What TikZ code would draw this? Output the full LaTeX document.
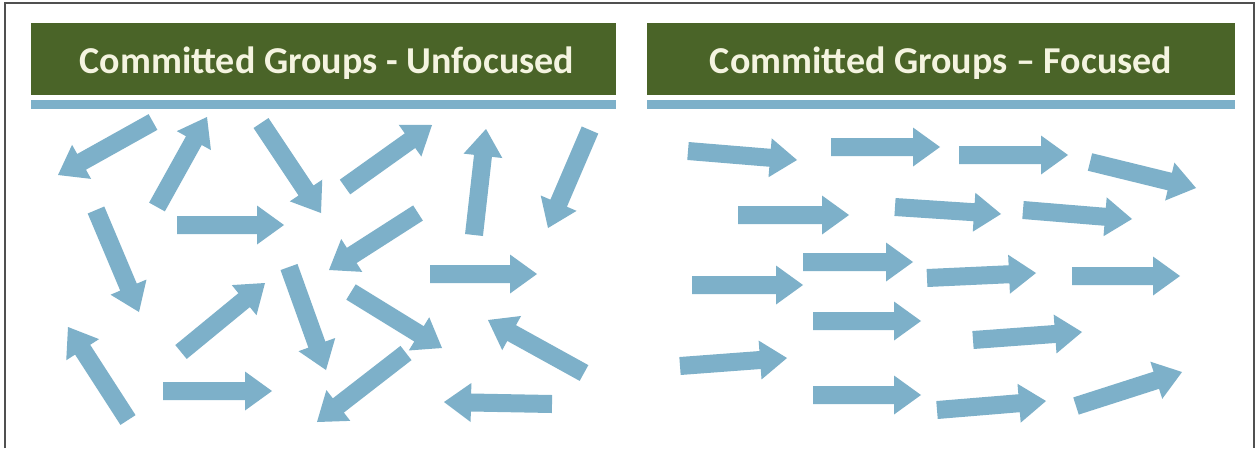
\documentclass[tikz,border=0pt]{standalone}
\usepackage{fontspec}
\setmainfont{Carlito}
\usetikzlibrary{calc}
\definecolor{hdrgreen}{HTML}{4A6428}
\definecolor{arrowblue}{HTML}{7DB0C9}
\definecolor{hdrtext}{HTML}{F4F4E0}
\definecolor{framegray}{HTML}{505050}
\tikzset{
  hdrbar/.style={fill=hdrgreen, draw=none},
  hdrline/.style={fill=arrowblue, draw=none},
  hdrlabel/.style={text=hdrtext, font=\bfseries\fontsize{38}{43}\selectfont, inner sep=0pt, anchor=base},
  arrowfill/.style={fill=arrowblue, draw=none},
}
% \blockarrow{name}{tail}{head}
\newcommand\blockarrow[3]{%
  \coordinate (#1-t) at #2;
  \coordinate (#1-h) at #3;
  \coordinate (#1-b) at ($(#1-h)!27pt!(#1-t)$);
  \fill[arrowfill] ($(#1-t)!9pt!90:(#1-h)$) -- ($(#1-b)!9pt!-90:(#1-t)$)
    -- ($(#1-b)!19.5pt!-90:(#1-t)$) -- (#1-h) -- ($(#1-b)!19.5pt!90:(#1-t)$)
    -- ($(#1-b)!9pt!90:(#1-t)$) -- ($(#1-t)!9pt!-90:(#1-h)$) -- cycle;
}
\begin{document}
\begin{tikzpicture}[x=1pt,y=-1pt]
\useasboundingbox (0,0) rectangle (1257,448);
\fill[white] (0,0) rectangle (1257,448);
% frame
\draw[framegray, line width=1.6pt] (5,448) -- (5,3) -- (1254,3) -- (1254,448);
% headers
\fill[hdrbar] (31,23) rectangle (616,95);
\fill[hdrline] (31,100) rectangle (616,109);
\fill[hdrbar] (647,23) rectangle (1235,95);
\fill[hdrline] (647,100) rectangle (1235,109);
\node[hdrlabel] (hl) at (327,73) {Committed Groups - Unfocused};
\node[hdrlabel] (hr) at (941,73) {Committed Groups – Focused};
% left panel: unfocused arrows
\blockarrow{l1}{(153,122)}{(58,175)}
\blockarrow{l2}{(157,207)}{(207,117)}
\blockarrow{l3}{(261,123)}{(321,213)}
\blockarrow{l4}{(345,187)}{(432,125)}
\blockarrow{l5}{(474,235)}{(486,129)}
\blockarrow{l6}{(590,130)}{(548,228)}
\blockarrow{l7}{(177,225)}{(284,225)}
\blockarrow{l8}{(96,210)}{(139,312)}
\blockarrow{l9}{(418,213)}{(329,270)}
\blockarrow{l10}{(430,274)}{(537,274)}
\blockarrow{l11}{(181,352)}{(265,283)}
\blockarrow{l12}{(289,267)}{(326,370)}
\blockarrow{l13}{(351,292)}{(442,348)}
\blockarrow{l14}{(584,373)}{(488,320)}
\blockarrow{l15}{(128,420)}{(68,327)}
\blockarrow{l16}{(163,391)}{(272,391)}
\blockarrow{l17}{(406,353)}{(317,422)}
\blockarrow{l18}{(552,404)}{(444,402)}
% right panel: focused arrows
\blockarrow{r1}{(688,151)}{(797,160)}
\blockarrow{r2}{(831,147)}{(940,147)}
\blockarrow{r3}{(959,155)}{(1068,155)}
\blockarrow{r4}{(1090,162)}{(1196,188)}
\blockarrow{r5}{(738,215)}{(849,215)}
\blockarrow{r6}{(895,207)}{(1001,214)}
\blockarrow{r7}{(1023,210)}{(1132,219)}
\blockarrow{r8}{(692,285)}{(803,285)}
\blockarrow{r9}{(803,262)}{(913,262)}
\blockarrow{r10}{(927,278)}{(1036,273)}
\blockarrow{r11}{(1072,276)}{(1180,276)}
\blockarrow{r12}{(813,321)}{(921,321)}
\blockarrow{r13}{(973,340)}{(1082,332)}
\blockarrow{r14}{(680,366)}{(787,358)}
\blockarrow{r15}{(813,395)}{(921,395)}
\blockarrow{r16}{(937,410)}{(1046,401)}
\blockarrow{r17}{(1076,406)}{(1182,372)}
\end{tikzpicture}
\end{document}
